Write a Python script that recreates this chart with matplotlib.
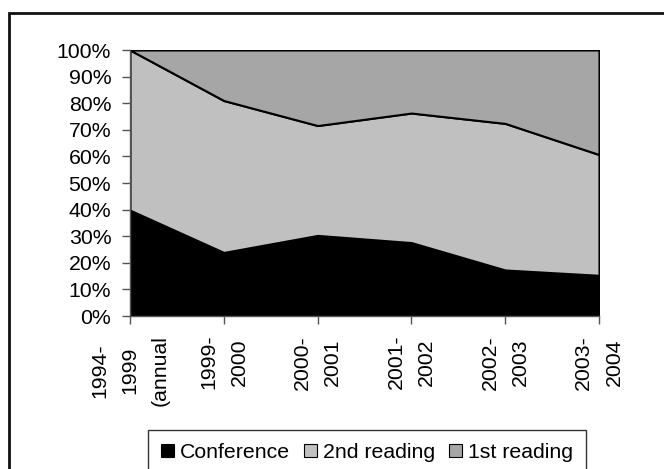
import matplotlib
matplotlib.use("Agg")
import matplotlib.pyplot as plt
from matplotlib.patches import Patch, Rectangle
import numpy as np

categories = ["1994-\n1999\n(annual", "1999-\n2000", "2000-\n2001", "2001-\n2002", "2002-\n2003", "2003-\n2004"]
conference = [39.8, 23.9, 30.3, 27.6, 17.3, 15.3]
second_reading = [60.2, 57.1, 41.3, 48.7, 55.1, 45.4]
first_reading = [0.0, 19.0, 28.4, 23.7, 27.6, 39.3]
series_names = ["Conference", "2nd reading", "1st reading"]
colors = ["#000000", "#C0C0C0", "#A6A6A6"]

plt.rcParams['font.family'] = ['Liberation Sans', 'DejaVu Sans']
FS = 15.3

W, H = 664, 469
fig = plt.figure(figsize=(W / 100, H / 100), dpi=100)

# outer chart frame (extends beyond the right/bottom edges)
fig.patches.append(Rectangle((9 / W, -0.1), 1.2, (H - 13) / H + 0.1, transform=fig.transFigure,
                             fill=False, edgecolor="#111111", linewidth=2))

ax = fig.add_axes([130 / W, 1 - 316 / H, (599 - 130) / W, (316 - 50) / H])
x = np.arange(len(categories))
ax.stackplot(x, conference, second_reading, first_reading, colors=colors,
             edgecolor="black", linewidth=1.5)
ax.set_xlim(0, len(categories) - 1)
ax.set_ylim(0, 100)
ax.set_yticks(np.arange(0, 101, 10))
ax.set_yticklabels([f"{v}%" for v in range(0, 101, 10)], fontsize=FS)
ax.set_xticks(x)
ax.set_xticklabels(categories, rotation=90, fontsize=FS, ha="center", va="top",
                   multialignment="center", linespacing=1.75)
ax.tick_params(axis="both", direction="out", length=5.5, width=1, color="#555555")
ax.tick_params(axis="x", pad=8)
ax.tick_params(axis="y", pad=8)
for s in ["top", "right"]:
    ax.spines[s].set_visible(False)
for s in ["left", "bottom"]:
    ax.spines[s].set_color("#555555")
    ax.spines[s].set_linewidth(1)

handles = [Patch(facecolor=c, edgecolor="black", linewidth=0.8) for c in colors]
leg = fig.legend(handles, series_names, loc="upper left", bbox_to_anchor=(148 / W, 1 - 430 / H),
                 ncol=3, frameon=True, fancybox=False, fontsize=FS, handlelength=0.6,
                 handleheight=0.6, handletextpad=0.3, columnspacing=0.65, borderpad=0.6,
                 borderaxespad=0)
leg.get_frame().set_edgecolor("black")
leg.get_frame().set_linewidth(1)

fig.savefig("out.png", dpi=100)
